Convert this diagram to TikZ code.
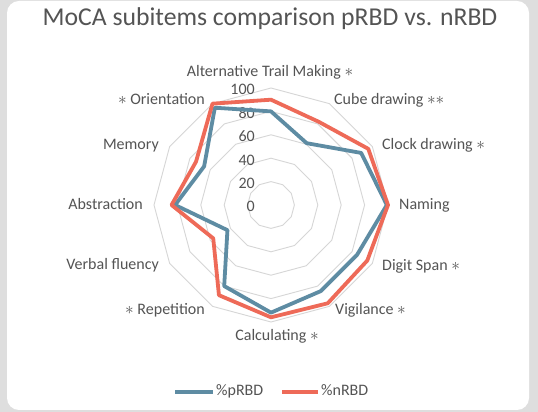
\documentclass[tikz,border=0pt]{standalone}
\usepackage{fontspec}
\setmainfont{Carlito}
\usetikzlibrary{calc}
\definecolor{framegray}{RGB}{222,222,222}
\definecolor{txtgray}{RGB}{84,84,84}
\definecolor{gridgray}{RGB}{214,214,214}
\definecolor{pblue}{RGB}{94,140,163}
\definecolor{nred}{RGB}{238,106,88}
\newcommand{\st}{{\fontsize{19}{19}\selectfont$\mathord{\ast}$}}
\begin{document}
\begin{tikzpicture}[x=1pt,y=1pt,
  lbl/.style={text=txtgray, font=\fontsize{16}{18}\selectfont, inner sep=0pt,
              text height=11pt, text depth=3pt},
  ticklbl/.style={lbl, anchor=east},
  ring/.style={draw=gridgray, line width=0.9pt},
  series/.style={line width=3.8pt, line join=round},
]
% page and white panel
\fill[framegray] (0,0) rectangle (538,412);
\fill[white, rounded corners=12pt] (7,2) rectangle (529,411);
\useasboundingbox (0,0) rectangle (538,412);

% title
\node[text=txtgray, font=\fontsize{25.7}{30}\selectfont, anchor=base, inner sep=0pt]
  (title) at (270,386) {MoCA subitems comparison pRBD vs. nRBD};

% centre of the radar, 100 % = 117pt
\coordinate (O) at (271,207);

% rings at 20, 40, 60, 80, 100
\foreach \k in {1,...,5}{
  \draw[ring, shift={(O)}] (90:{\k*23.4})
    \foreach \i in {1,...,11}{ -- ({90-30*\i}:{\k*23.4}) } -- cycle;
}

% value axis labels
\foreach \v in {0,20,...,100}{
  \node[ticklbl] (t\v) at (255,{207-3+\v*1.17}) {\v};
}

% data points
\foreach \v [count=\i from 0] in {80,61,89,99,85,85,92,80,43,82,66,96}{
  \coordinate (p\i) at ($(O)+({90-30*\i}:{\v*1.17})$);
}
\foreach \v [count=\i from 0] in {90,82,96,100,95,97,96,89,57,85,74,100}{
  \coordinate (n\i) at ($(O)+({90-30*\i}:{\v*1.17})$);
}
\draw[series, draw=pblue] (p0) \foreach \i in {1,...,11}{ -- (p\i) } -- cycle;
\draw[series, draw=nred] (n0) \foreach \i in {1,...,11}{ -- (n\i) } -- cycle;

% category labels
\node[lbl] (atm) at (270,339) {Alternative Trail Making \st};
\node[lbl, anchor=west] (cube) at (334,311) {Cube drawing \st\st};
\node[lbl, anchor=west] (clock) at (382,266) {Clock drawing \st};
\node[lbl, anchor=west] (naming) at (399,206) {Naming};
\node[lbl, anchor=west] (digit) at (382,145) {Digit Span \st};
\node[lbl, anchor=west] (vigil) at (335,101) {Vigilance \st};
\node[lbl] (calc) at (277,75) {Calculating \st};
\node[lbl, anchor=east] (rep) at (205,101) {\st\ Repetition};
\node[lbl, anchor=east] (verbal) at (159,146) {Verbal fluency};
\node[lbl, anchor=east] (abstr) at (143,206) {Abstraction};
\node[lbl, anchor=east] (memory) at (159,266) {Memory};
\node[lbl, anchor=east] (orient) at (205,311) {\st\ Orientation};

% legend
\coordinate (lb1) at (175,20);
\coordinate (lb2) at (213,20);
\coordinate (lr1) at (282,20);
\coordinate (lr2) at (318,20);
\draw[series, draw=pblue] (lb1) -- (lb2);
\draw[series, draw=nred] (lr1) -- (lr2);
\node[lbl, anchor=west] (legp) at (216,20) {\%pRBD};
\node[lbl, anchor=west] (legn) at (321,20) {\%nRBD};
\end{tikzpicture}
\end{document}
